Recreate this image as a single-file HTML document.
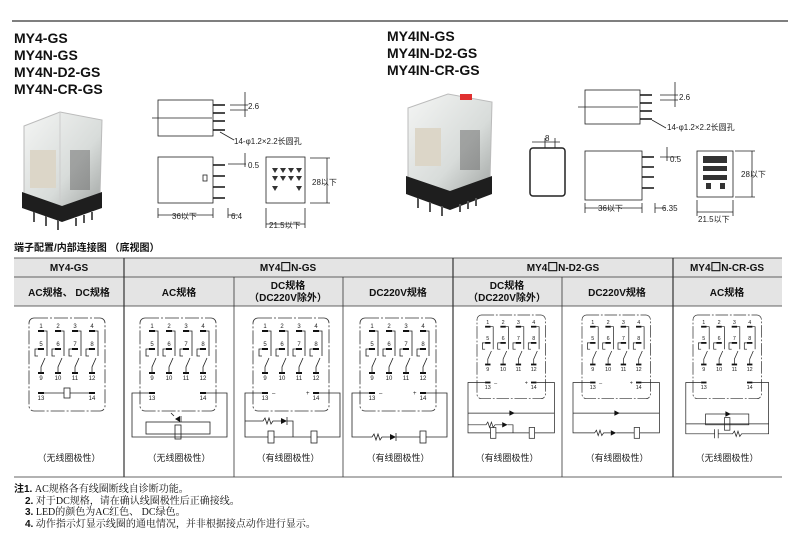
<!DOCTYPE html>
<html><head><meta charset="utf-8"><style>
body{margin:0;background:#fff;width:790px;height:537px;overflow:hidden}
svg{display:block}
.m{font:bold 14px "Liberation Sans","Noto Sans CJK SC",sans-serif;fill:#111}
.h{font:bold 10px "Liberation Sans","Noto Sans CJK SC",sans-serif;fill:#111}
.n{font:6px "Liberation Sans",sans-serif;fill:#222}
.c{font:9px "Liberation Sans","Noto Sans CJK SC",sans-serif;fill:#222}
.d{font:8px "Liberation Sans","Noto Sans CJK SC",sans-serif;fill:#222}
.t{font:10px "Liberation Serif","Noto Serif CJK SC",serif;fill:#111}
.l{stroke:#222;stroke-width:.8;fill:none}
</style></head><body>
<svg width="790" height="537" viewBox="0 0 790 537" xmlns="http://www.w3.org/2000/svg">
<defs>
<g id="box">
<rect x="0" y="0" width="76" height="93" rx="5" fill="none" stroke="#333" stroke-width=".8" stroke-dasharray="14 2 2 2"/>
<g fill="#111">
<rect x="9" y="12" width="6" height="2"/><rect x="26" y="12" width="6" height="2"/><rect x="43" y="12" width="6" height="2"/><rect x="60" y="12" width="6" height="2"/>
<rect x="9" y="30" width="6" height="2"/><rect x="26" y="30" width="6" height="2"/><rect x="43" y="30" width="6" height="2"/><rect x="60" y="30" width="6" height="2"/>
<rect x="9" y="54" width="6" height="2"/><rect x="26" y="54" width="6" height="2"/><rect x="43" y="54" width="6" height="2"/><rect x="60" y="54" width="6" height="2"/>
<rect x="9" y="74" width="6" height="2"/><rect x="60" y="74" width="6" height="2"/>
</g>
<path class="l" d="M15 13h3v25M9 31h-3v7h3M12 55v-6l4-9M32 13h3v25M26 31h-3v7h3M29 55v-6l4-9M49 13h3v25M43 31h-3v7h3M46 55v-6l4-9M66 13h3v25M60 31h-3v7h3M63 55v-6l4-9"/>
</g>
<linearGradient id="pg" x1="0" y1="0" x2="1" y2="1"><stop offset="0" stop-color="#f4f5f4"/><stop offset=".6" stop-color="#d8dcda"/><stop offset="1" stop-color="#a0a4a2"/></linearGradient>
</defs>
<line x1="12" y1="21" x2="788" y2="21" stroke="#555" stroke-width="1.5"/>
<text class="m" x="14" y="43">MY4-GS</text><text class="m" x="14" y="60">MY4N-GS</text><text class="m" x="14" y="77">MY4N-D2-GS</text><text class="m" x="14" y="94">MY4N-CR-GS</text>
<text class="m" x="387" y="41">MY4IN-GS</text><text class="m" x="387" y="58">MY4IN-D2-GS</text><text class="m" x="387" y="75">MY4IN-CR-GS</text>
<!-- photo 1 -->
<path d="M24 126 L60 112 L102 120 L100 195 L62 210 L24 195Z" fill="url(#pg)" stroke="#bbb"/>
<path d="M60 112 L60 205" stroke="#ccc"/>
<rect x="30" y="150" width="26" height="38" fill="#dcd6c8"/><rect x="70" y="150" width="20" height="40" fill="#666" opacity=".5"/>
<path d="M22 192 L62 206 L102 192 L102 208 L62 222 L22 208Z" fill="#1e1e1e"/>
<g stroke="#555" stroke-width="2" fill="none"><path d="M34 212v10M46 216v10M58 220v10M76 218v8M84 215v8M92 212v8"/></g>
<!-- photo 2 -->
<path d="M408 108 L448 94 L492 102 L490 180 L450 196 L408 180Z" fill="url(#pg)" stroke="#bbb"/>
<rect x="415" y="128" width="26" height="38" fill="#dcd6c8"/><rect x="460" y="130" width="20" height="40" fill="#666" opacity=".5"/>
<rect x="460" y="94" width="12" height="6" fill="#e03030"/>
<path d="M406 176 L450 191 L492 176 L492 194 L450 210 L406 194Z" fill="#1e1e1e"/>
<g stroke="#555" stroke-width="2" fill="none"><path d="M418 198v10M430 202v10M442 206v10M460 204v8M468 201v8M476 198v8"/></g>
<!-- left dims -->
<g class="l">
<rect x="158" y="100" width="55" height="36"/><path d="M152 118h60M245 92v25M230 105h18M230 110h18M220 132l14 8"/>
<rect x="158" y="157" width="55" height="46"/><path d="M228 164h18M245 153v14M158 208v10M213 208v10M228 208v10M158 215h55M228 215h10"/>
<rect x="266" y="157" width="39" height="46"/><path d="M310 158h20M310 203h20M327 158v45M266 208v20M305 208v20M266 224h39"/>
<rect x="203" y="175" width="4" height="6"/>
</g>
<g stroke="#111" stroke-width="1.4"><path d="M213 105h12M213 113h12M213 121h12M213 130h12M213 165h12M213 176h12M213 187h12M213 198h12"/></g>
<g fill="#333"><path d="M272 168l3 5 3-5zM280 168l3 5 3-5zM288 168l3 5 3-5zM296 168l3 5 3-5zM272 176l3 5 3-5zM280 176l3 5 3-5zM288 176l3 5 3-5zM296 176l3 5 3-5zM272 186l3 5 3-5zM296 186l3 5 3-5z"/></g>
<text class="d" x="248" y="109">2.6</text><text class="d" x="234" y="144">14-φ1.2×2.2长圆孔</text>
<text class="d" x="248" y="168">0.5</text><text class="d" x="312" y="185">28以下</text>
<text class="d" x="172" y="219">36以下</text><text class="d" x="231" y="219">6.4</text><text class="d" x="269" y="228">21.5以下</text>
<!-- right dims -->
<g class="l">
<rect x="585" y="90" width="55" height="34"/><path d="M578 107h60M675 82v25M660 95h18M660 100h18M652 120l14 8"/>
<rect x="530" y="148" width="35" height="48" rx="3" stroke-width="1.5"/><path d="M532 142h28M545 138v10M555 138v10"/>
<rect x="585" y="151" width="57" height="49"/><path d="M660 157h18M667 147v14M585 203v10M642 203v10M655 203v10M585 208h57M655 208h10"/>
<rect x="697" y="151" width="36" height="46"/><path d="M735 151h20M735 197h20M752 151v46M697 200v16M733 200v16M697 212h36"/>
</g>
<g stroke="#111" stroke-width="1.4"><path d="M640 95h12M640 103h12M640 111h12M640 119h12M642 157h12M642 167h12M642 177h12M642 188h12"/></g>
<g fill="#333"><rect x="703" y="156" width="24" height="7"/><rect x="703" y="166" width="24" height="5"/><rect x="703" y="175" width="24" height="5"/><rect x="706" y="183" width="5" height="6"/><rect x="720" y="183" width="5" height="6"/></g>
<text class="d" x="679" y="100">2.6</text><text class="d" x="667" y="130">14-φ1.2×2.2长圆孔</text><text class="d" x="545" y="141">8</text>
<text class="d" x="670" y="162">0.5</text><text class="d" x="741" y="177">28以下</text>
<text class="d" x="598" y="211">36以下</text><text class="d" x="662" y="211">6.35</text><text class="d" x="698" y="222">21.5以下</text>
<!-- table -->
<text class="h" x="14" y="251">端子配置/内部连接图 （底视图）</text>
<rect x="14" y="258" width="768" height="48" fill="#e4e4e4"/>
<g stroke="#333" stroke-width=".8">
<line x1="14" y1="258" x2="782" y2="258"/><line x1="14" y1="277" x2="782" y2="277"/><line x1="14" y1="306" x2="782" y2="306"/>
<line x1="124" y1="258" x2="124" y2="477" stroke-width="1.2"/><line x1="453" y1="258" x2="453" y2="477" stroke-width="1.2"/><line x1="673" y1="258" x2="673" y2="477" stroke-width="1.2"/>
<line x1="234" y1="277" x2="234" y2="477"/><line x1="343" y1="277" x2="343" y2="477"/><line x1="562" y1="277" x2="562" y2="477"/>
<line x1="14" y1="477" x2="782" y2="477"/>
</g>
<g class="h" text-anchor="middle">
<text x="69" y="271">MY4-GS</text><text x="288" y="271">MY4<tspan font-size="12">☐</tspan>N-GS</text><text x="563" y="271">MY4<tspan font-size="12">☐</tspan>N-D2-GS</text><text x="727" y="271">MY4<tspan font-size="12">☐</tspan>N-CR-GS</text>
<text x="69" y="296">AC规格、 DC规格</text><text x="179" y="296">AC规格</text><text x="288" y="289">DC规格</text><text x="288" y="301">（DC220V除外）</text><text x="398" y="296">DC220V规格</text>
<text x="507" y="289">DC规格</text><text x="507" y="301">（DC220V除外）</text><text x="617" y="296">DC220V规格</text><text x="727" y="296">AC规格</text>
</g>
<g class="c" text-anchor="middle"><text x="69" y="461">（无线圈极性）</text><text x="179" y="461">（无线圈极性）</text><text x="288" y="461">（有线圈极性）</text><text x="398" y="461">（有线圈极性）</text><text x="507" y="461">（有线圈极性）</text><text x="617" y="461">（有线圈极性）</text><text x="727" y="461">（无线圈极性）</text></g>

<g transform="translate(29,318)"><use href="#box"/><g class="n" text-anchor="middle"><text y="10"><tspan x="12">1</tspan><tspan x="29">2</tspan><tspan x="46">3</tspan><tspan x="63">4</tspan></text><text y="28"><tspan x="12">5</tspan><tspan x="29">6</tspan><tspan x="46">7</tspan><tspan x="63">8</tspan></text><text y="62"><tspan x="12">9</tspan><tspan x="29">10</tspan><tspan x="46">11</tspan><tspan x="63">12</tspan></text><text y="82"><tspan x="12">13</tspan><tspan x="63">14</tspan></text></g>
<path class="l" d="M15 75H35M41 75H60"/><rect x="35" y="70" width="6" height="10" class="l" fill="#fff"/></g>

<g transform="translate(140,318)"><use href="#box"/><g class="n" text-anchor="middle"><text y="10"><tspan x="12">1</tspan><tspan x="29">2</tspan><tspan x="46">3</tspan><tspan x="63">4</tspan></text><text y="28"><tspan x="12">5</tspan><tspan x="29">6</tspan><tspan x="46">7</tspan><tspan x="63">8</tspan></text><text y="62"><tspan x="12">9</tspan><tspan x="29">10</tspan><tspan x="46">11</tspan><tspan x="63">12</tspan></text><text y="82"><tspan x="12">13</tspan><tspan x="63">14</tspan></text></g>
<path class="l" d="M9 75H-8V119H87V75H66"/><rect x="6" y="104" width="64" height="12" class="l"/><rect x="35" y="107" width="6" height="14" class="l" fill="#fff"/><path d="M35 101l5-3v6z" fill="#111"/><path class="l" d="M41 98v6M31 95l3 3"/></g>

<g transform="translate(253,318)"><use href="#box"/><g class="n" text-anchor="middle"><text y="10"><tspan x="12">1</tspan><tspan x="29">2</tspan><tspan x="46">3</tspan><tspan x="63">4</tspan></text><text y="28"><tspan x="12">5</tspan><tspan x="29">6</tspan><tspan x="46">7</tspan><tspan x="63">8</tspan></text><text y="62"><tspan x="12">9</tspan><tspan x="29">10</tspan><tspan x="46">11</tspan><tspan x="63">12</tspan></text><text y="82"><tspan x="12">13</tspan><tspan x="63">14</tspan></text></g>
<text class="n" x="19" y="77">–</text><text class="n" x="53" y="77">+</text>
<path class="l" d="M9 75H-8V119H15M21 119H58M64 119H87V75H66M-8 103H10l2-3 2 6 2-6 2 6 2-3H28M34 103H40V119"/><rect x="15" y="113" width="6" height="12" class="l" fill="#fff"/><rect x="58" y="113" width="6" height="12" class="l" fill="#fff"/><path d="M28 100l6 3-6 3z" fill="#111"/><path class="l" d="M34 99v8"/></g>

<g transform="translate(360,318)"><use href="#box"/><g class="n" text-anchor="middle"><text y="10"><tspan x="12">1</tspan><tspan x="29">2</tspan><tspan x="46">3</tspan><tspan x="63">4</tspan></text><text y="28"><tspan x="12">5</tspan><tspan x="29">6</tspan><tspan x="46">7</tspan><tspan x="63">8</tspan></text><text y="62"><tspan x="12">9</tspan><tspan x="29">10</tspan><tspan x="46">11</tspan><tspan x="63">12</tspan></text><text y="82"><tspan x="12">13</tspan><tspan x="63">14</tspan></text></g>
<text class="n" x="19" y="77">–</text><text class="n" x="53" y="77">+</text>
<path class="l" d="M9 75H-8V119H12l2-3 2 6 2-6 2 6 2-3H30M36 119H60M66 119H87V75H66"/><path d="M30 116l6 3-6 3z" fill="#111"/><path class="l" d="M36 115v8"/><rect x="60" y="113" width="6" height="12" class="l" fill="#fff"/></g>

<g transform="translate(477,315) scale(.9)"><use href="#box"/><g class="n" text-anchor="middle"><text y="10"><tspan x="12">1</tspan><tspan x="29">2</tspan><tspan x="46">3</tspan><tspan x="63">4</tspan></text><text y="28"><tspan x="12">5</tspan><tspan x="29">6</tspan><tspan x="46">7</tspan><tspan x="63">8</tspan></text><text y="62"><tspan x="12">9</tspan><tspan x="29">10</tspan><tspan x="46">11</tspan><tspan x="63">12</tspan></text><text y="82"><tspan x="12">13</tspan><tspan x="63">14</tspan></text></g>
<text class="n" x="19" y="77">–</text><text class="n" x="53" y="77">+</text>
<path class="l" d="M9 75H-10V131H15M21 131H58M64 131H86V75H66M-10 109H86M-10 122H10l2-3 2 6 2-6 2 6 2-3H28M34 122H40V131"/><rect x="15" y="125" width="6" height="12" class="l" fill="#fff"/><rect x="58" y="125" width="6" height="12" class="l" fill="#fff"/><path d="M28 119l6 3-6 3zM36 106l6 3-6 3z" fill="#111"/></g>

<g transform="translate(582,315) scale(.9)"><use href="#box"/><g class="n" text-anchor="middle"><text y="10"><tspan x="12">1</tspan><tspan x="29">2</tspan><tspan x="46">3</tspan><tspan x="63">4</tspan></text><text y="28"><tspan x="12">5</tspan><tspan x="29">6</tspan><tspan x="46">7</tspan><tspan x="63">8</tspan></text><text y="62"><tspan x="12">9</tspan><tspan x="29">10</tspan><tspan x="46">11</tspan><tspan x="63">12</tspan></text><text y="82"><tspan x="12">13</tspan><tspan x="63">14</tspan></text></g>
<text class="n" x="19" y="77">–</text><text class="n" x="53" y="77">+</text>
<path class="l" d="M9 75H-10V131H14l2-3 2 6 2-6 2 6 2-3H32M38 131H58M64 131H86V75H66M-10 109H86"/><rect x="58" y="125" width="6" height="12" class="l" fill="#fff"/><path d="M32 128l6 3-6 3zM36 106l6 3-6 3z" fill="#111"/></g>

<g transform="translate(693,315) scale(.9)"><use href="#box"/><g class="n" text-anchor="middle"><text y="10"><tspan x="12">1</tspan><tspan x="29">2</tspan><tspan x="46">3</tspan><tspan x="63">4</tspan></text><text y="28"><tspan x="12">5</tspan><tspan x="29">6</tspan><tspan x="46">7</tspan><tspan x="63">8</tspan></text><text y="62"><tspan x="12">9</tspan><tspan x="29">10</tspan><tspan x="46">11</tspan><tspan x="63">12</tspan></text><text y="82"><tspan x="12">13</tspan><tspan x="63">14</tspan></text></g>
<path class="l" d="M9 75H-8V132H24M28 132H44l2-3 2 6 2-6 2 6 2-3H84V75H66M-8 121H84"/><path class="l" d="M24 127v10M28 127v10"/><rect x="14" y="110" width="48" height="12" class="l"/><rect x="35" y="114" width="6" height="14" class="l" fill="#fff"/><path d="M36 107l6 3-6 3z" fill="#111"/></g>

<text class="t" x="14" y="492"><tspan font-weight="bold" font-family="Liberation Sans,Noto Sans CJK SC,sans-serif">注1.</tspan> AC规格各有线圈断线自诊断功能。</text>
<text class="t" x="25" y="504"><tspan font-weight="bold" font-family="Liberation Sans,sans-serif">2.</tspan> 对于DC规格，请在确认线圈极性后正确接线。</text>
<text class="t" x="25" y="515"><tspan font-weight="bold" font-family="Liberation Sans,sans-serif">3.</tspan> LED的颜色为AC红色、 DC绿色。</text>
<text class="t" x="25" y="527"><tspan font-weight="bold" font-family="Liberation Sans,sans-serif">4.</tspan> 动作指示灯显示线圈的通电情况，并非根据接点动作进行显示。</text>
</svg>
</body></html>
